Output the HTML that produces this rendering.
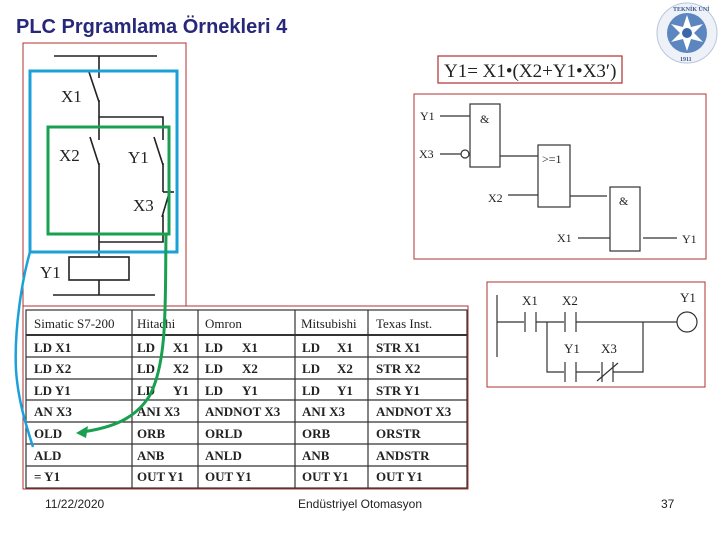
<!DOCTYPE html>
<html><head><meta charset="utf-8"><style>
html,body{margin:0;padding:0;background:#fff;width:720px;height:540px;overflow:hidden}
svg{display:block}
.s{font-family:"Liberation Serif",serif;fill:#222;white-space:pre}
.b{font-weight:bold}
</style></head><body>
<svg width="720" height="540" viewBox="0 0 720 540" xmlns="http://www.w3.org/2000/svg">
<text x="16" y="33" font-family="Liberation Sans,sans-serif" font-size="20" font-weight="bold" fill="#28287a">PLC Prgramlama Örnekleri 4</text>
<!-- logo -->
<circle cx="687" cy="33" r="30" fill="#eef2f8" stroke="#b8c6dc" stroke-width="1"/>
<circle cx="687" cy="33" r="20" fill="#5b86c0"/>
<polygon points="687,15 691,27 703,24 694,33 703,42 691,39 687,51 683,39 671,42 680,33 671,24 683,27" fill="#fff"/>
<circle cx="687" cy="33" r="5" fill="#3b66a8"/>
<g font-family="Liberation Serif,serif" font-size="6" fill="#3b5a90" font-weight="bold"><text x="673" y="11">TEKNİK ÜNİ</text><text x="680" y="61">1911</text></g>

<!-- left circuit -->
<rect x="23" y="43" width="163" height="263" fill="none" stroke="#b03030" stroke-width="1"/>
<g stroke="#222" stroke-width="1.6" fill="none">
<line x1="54" y1="56" x2="157" y2="56"/>
<line x1="99" y1="56" x2="99" y2="78"/>
<line x1="89" y1="72" x2="99" y2="102"/>
<polyline points="99,100 99,117 163,117 163,140"/>
<line x1="99" y1="117" x2="99" y2="140"/>
<line x1="90" y1="137" x2="99" y2="165"/>
<line x1="99" y1="163" x2="99" y2="257"/>
<line x1="154" y1="137" x2="163" y2="165"/>
<line x1="163" y1="163" x2="163" y2="192"/>
<line x1="163" y1="192" x2="174" y2="192"/>
<line x1="170" y1="190" x2="162" y2="217"/>
<polyline points="163,215 163,242 99,242"/>
<rect x="69" y="257" width="60" height="23"/>
<line x1="99" y1="280" x2="99" y2="295"/>
<line x1="53" y1="295" x2="155" y2="295"/>
</g>
<g class="s" font-size="17"><text x="61" y="102">X1</text><text x="59" y="161">X2</text><text x="128" y="163">Y1</text><text x="133" y="211">X3</text><text x="40" y="278">Y1</text></g>
<rect x="30" y="71" width="147" height="181" fill="none" stroke="#1ba1d8" stroke-width="3"/>
<rect x="48" y="127" width="121" height="107" fill="none" stroke="#18a050" stroke-width="3"/>

<!-- table -->
<rect x="23" y="306" width="445" height="183" fill="none" stroke="#b03030" stroke-width="1"/>
<g stroke="#333" stroke-width="1.2" fill="none">
<rect x="26" y="310" width="441" height="178"/>
<line x1="132" y1="310" x2="132" y2="488"/><line x1="198" y1="310" x2="198" y2="488"/>
<line x1="295" y1="310" x2="295" y2="488"/><line x1="368" y1="310" x2="368" y2="488"/>
<line x1="26" y1="335" x2="467" y2="335" stroke-width="2"/>
<line x1="26" y1="357" x2="467" y2="357"/><line x1="26" y1="379" x2="467" y2="379"/>
<line x1="26" y1="400" x2="467" y2="400"/><line x1="26" y1="422" x2="467" y2="422"/>
<line x1="26" y1="444" x2="467" y2="444"/><line x1="26" y1="466" x2="467" y2="466"/>
</g>
<g class="s" font-size="13">
<text x="34" y="328">Simatic S7-200</text><text x="137" y="328">Hitachi</text><text x="205" y="328">Omron</text><text x="301" y="328">Mitsubishi</text><text x="376" y="328">Texas Inst.</text>
</g>
<g class="s b" font-size="13">
<text x="34" y="352">LD  X1</text><text x="137" y="352">LD</text><text x="173" y="352">X1</text><text x="205" y="352">LD</text><text x="242" y="352">X1</text><text x="302" y="352">LD</text><text x="337" y="352">X1</text><text x="376" y="352">STR  X1</text>
<text x="34" y="373">LD  X2</text><text x="137" y="373">LD</text><text x="173" y="373">X2</text><text x="205" y="373">LD</text><text x="242" y="373">X2</text><text x="302" y="373">LD</text><text x="337" y="373">X2</text><text x="376" y="373">STR  X2</text>
<text x="34" y="395">LD  Y1</text><text x="137" y="395">LD</text><text x="173" y="395">Y1</text><text x="205" y="395">LD</text><text x="242" y="395">Y1</text><text x="302" y="395">LD</text><text x="337" y="395">Y1</text><text x="376" y="395">STR  Y1</text>
<text x="34" y="416">AN   X3</text><text x="137" y="416">ANI  X3</text><text x="205" y="416">ANDNOT X3</text><text x="302" y="416">ANI  X3</text><text x="376" y="416">ANDNOT X3</text>
<text x="34" y="438">OLD</text><text x="137" y="438">ORB</text><text x="205" y="438">ORLD</text><text x="302" y="438">ORB</text><text x="376" y="438">ORSTR</text>
<text x="34" y="460">ALD</text><text x="137" y="460">ANB</text><text x="205" y="460">ANLD</text><text x="302" y="460">ANB</text><text x="376" y="460">ANDSTR</text>
<text x="34" y="481">=  Y1</text><text x="137" y="481">OUT Y1</text><text x="205" y="481">OUT Y1</text><text x="302" y="481">OUT Y1</text><text x="376" y="481">OUT Y1</text>
</g>
<!-- arrows -->
<path d="M30,252 C22,280 14,330 16,370 C18,400 26,425 33,447" fill="none" stroke="#1ba1d8" stroke-width="2.5"/>
<path d="M166,234 C165,300 168,360 150,395 C135,420 110,428 82,432" fill="none" stroke="#18a050" stroke-width="3"/>
<polygon points="76,433 88,426 86,438" fill="#18a050"/>

<!-- formula -->
<rect x="438" y="56" width="184" height="27" fill="none" stroke="#b03030" stroke-width="1.2"/>
<text class="s" x="444" y="77" font-size="19">Y1= X1•(X2+Y1•X3′)</text>

<!-- logic -->
<rect x="414" y="94" width="292" height="165" fill="none" stroke="#b03030" stroke-width="1"/>
<g stroke="#333" stroke-width="1.2" fill="none">
<rect x="470" y="104" width="30" height="63"/><rect x="538" y="145" width="32" height="62"/><rect x="610" y="187" width="30" height="64"/>
<line x1="440" y1="116" x2="470" y2="116"/><line x1="440" y1="154" x2="461" y2="154"/><circle cx="465" cy="154" r="4"/>
<line x1="500" y1="156" x2="538" y2="156"/><line x1="508" y1="195" x2="538" y2="195"/>
<line x1="570" y1="196" x2="607" y2="196"/><line x1="578" y1="238" x2="610" y2="238"/><line x1="643" y1="238" x2="677" y2="238"/>
</g>
<g class="s" font-size="12"><text x="420" y="120">Y1</text><text x="419" y="158">X3</text><text x="480" y="123">&amp;</text><text x="542" y="163">&gt;=1</text><text x="488" y="202">X2</text><text x="619" y="205">&amp;</text><text x="557" y="242">X1</text><text x="682" y="243">Y1</text></g>

<!-- ladder -->
<rect x="487" y="282" width="218" height="105" fill="none" stroke="#b03030" stroke-width="1"/>
<g stroke="#333" stroke-width="1.2" fill="none">
<line x1="497" y1="295" x2="497" y2="357"/>
<line x1="497" y1="322" x2="524" y2="322"/><line x1="525" y1="312" x2="525" y2="332"/><line x1="536" y1="312" x2="536" y2="332"/>
<line x1="536" y1="322" x2="564" y2="322"/><line x1="565" y1="312" x2="565" y2="332"/><line x1="576" y1="312" x2="576" y2="332"/>
<line x1="576" y1="322" x2="677" y2="322"/><circle cx="687" cy="322" r="10"/>
<polyline points="547,322 547,372 564,372"/><line x1="565" y1="362" x2="565" y2="382"/><line x1="576" y1="362" x2="576" y2="382"/>
<line x1="576" y1="372" x2="600" y2="372"/><line x1="602" y1="362" x2="602" y2="382"/><line x1="613" y1="362" x2="613" y2="382"/>
<line x1="597" y1="381" x2="618" y2="363"/>
<polyline points="613,372 643,372 643,322"/>
</g>
<g class="s" font-size="13"><text x="522" y="305">X1</text><text x="562" y="305">X2</text><text x="680" y="302">Y1</text><text x="564" y="353">Y1</text><text x="601" y="353">X3</text></g>

<!-- footer -->
<g font-family="Liberation Sans,sans-serif" font-size="12" fill="#222">
<text x="45" y="508">11/22/2020</text><text x="360" y="508" text-anchor="middle">Endüstriyel Otomasyon</text><text x="661" y="508">37</text></g>
</svg>
</body></html>
